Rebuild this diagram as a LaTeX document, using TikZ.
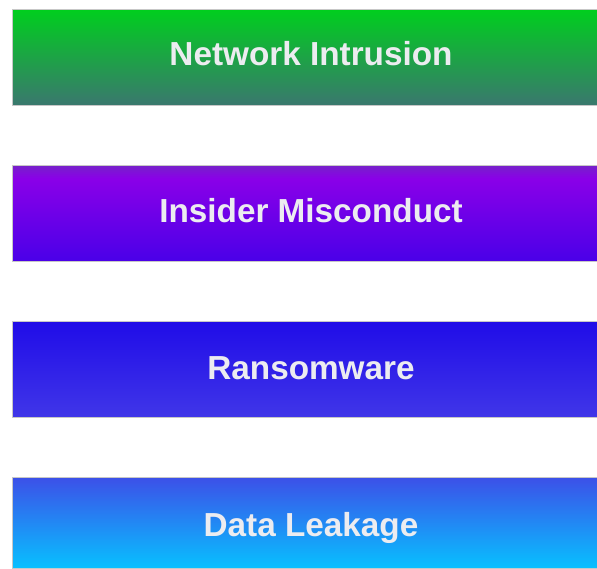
\documentclass[tikz,border=0pt]{standalone}
\usepackage{fontspec}
\setmainfont{Liberation Sans}
\definecolor{c1t}{RGB}{0,206,30}
\definecolor{c1b}{RGB}{58,120,110}
\definecolor{c2t}{RGB}{118,34,200}
\definecolor{c2m}{RGB}{138,0,232}
\definecolor{c2b}{RGB}{74,0,232}
\definecolor{c3t}{RGB}{32,12,232}
\definecolor{c3b}{RGB}{64,54,232}
\definecolor{c4t}{RGB}{60,80,232}
\definecolor{c4b}{RGB}{8,192,255}
\definecolor{labelgrey}{RGB}{236,236,240}
% the path's box is mapped onto the middle half (25bp--75bp) of each shading
\pgfdeclareverticalshading{shgreen}{100bp}{color(0bp)=(c1b); color(25bp)=(c1b); color(75bp)=(c1t); color(100bp)=(c1t)}
\pgfdeclareverticalshading{shpurple}{100bp}{color(0bp)=(c2b); color(25bp)=(c2b); color(68bp)=(c2m); color(75bp)=(c2t); color(100bp)=(c2t)}
\pgfdeclareverticalshading{shblue}{100bp}{color(0bp)=(c3b); color(25bp)=(c3b); color(75bp)=(c3t); color(100bp)=(c3t)}
\pgfdeclareverticalshading{shcyan}{100bp}{color(0bp)=(c4b); color(25bp)=(c4b); color(75bp)=(c4t); color(100bp)=(c4t)}
\begin{document}
\begin{tikzpicture}[x=1pt,y=-1pt,
  band/.style={draw=black!22,line width=0.8pt},
  label/.style={anchor=base,text=labelgrey,font=\fontsize{33.3}{40}\selectfont\bfseries,inner sep=0pt}]
\useasboundingbox (0,0) rectangle (597,568);
\clip (0,0) rectangle (597,568);
% four gradient bands, wider than the page on the right
\path[band,shading=shgreen]  (12,9.5)  rectangle (610,105) coordinate (b1);
\path[band,shading=shpurple] (12,165)  rectangle (610,261) coordinate (b2);
\path[band,shading=shblue]   (12,321)  rectangle (610,417) coordinate (b3);
\path[band,shading=shcyan]   (12,477)  rectangle (610,568) coordinate (b4);
\node[label] (t1) at (311,65)  {Network Intrusion};
\node[label] (t2) at (311,222) {Insider Misconduct};
\node[label] (t3) at (311,379) {Ransomware};
\node[label] (t4) at (311,536) {Data Leakage};
\end{tikzpicture}
\end{document}
